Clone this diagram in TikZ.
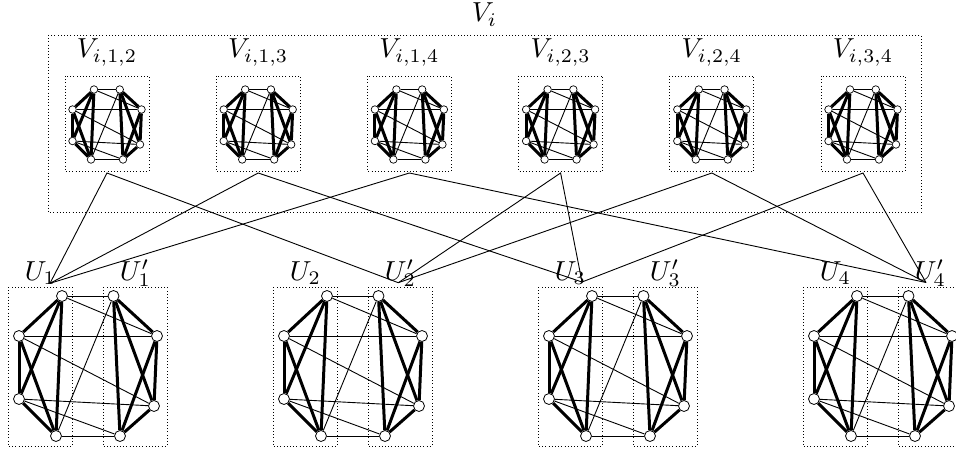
\documentclass[tikz,border=0pt]{standalone}
\usepackage{graphicx}
\newcommand{\biglbl}[1]{\scalebox{2.75}{$#1$}}
\begin{document}
\begin{tikzpicture}[x=1pt,y=-1pt,
  lbl/.style={inner sep=0pt, anchor=base},
  dotbox/.style={draw, line width=0.8pt, dash pattern=on 0.8pt off 2.4pt},
  vbig/.style={circle, draw, fill=white, line width=0.8pt, inner sep=0pt, minimum size=11pt},
  vsmall/.style={circle, draw, fill=white, line width=0.7pt, inner sep=0pt, minimum size=7.5pt},
  thinedge/.style={line width=0.9pt},
  thickedge/.style={line width=3pt},
  link/.style={line width=0.9pt},
  pics/gadget/.style={code={
    \node[#1] (-a1) at (-26,-70) {};
    \node[#1] (-a2) at (-69,-30) {};
    \node[#1] (-a3) at (-69,33) {};
    \node[#1] (-a4) at (-32,70) {};
    \node[#1] (-b1) at (25.5,-70) {};
    \node[#1] (-b2) at (69,-30) {};
    \node[#1] (-b3) at (66,40) {};
    \node[#1] (-b4) at (32,70) {};
    \draw[thinedge] (-a1) -- (-b1);
    \draw[thinedge] (-a1) -- (-b2);
    \draw[thinedge] (-a2) -- (-b2);
    \draw[thinedge] (-a2) -- (-b3);
    \draw[thinedge] (-a3) -- (-b3);
    \draw[thinedge] (-a3) -- (-b4);
    \draw[thinedge] (-a4) -- (-b4);
    \draw[thinedge] (-a4) -- (-b1);
    \draw[thickedge] (-a1) -- (-a2);
    \draw[thickedge] (-a1) -- (-a3);
    \draw[thickedge] (-a1) -- (-a4);
    \draw[thickedge] (-a2) -- (-a3);
    \draw[thickedge] (-a2) -- (-a4);
    \draw[thickedge] (-a3) -- (-a4);
    \draw[thickedge] (-b1) -- (-b2);
    \draw[thickedge] (-b1) -- (-b3);
    \draw[thickedge] (-b1) -- (-b4);
    \draw[thickedge] (-b2) -- (-b3);
    \draw[thickedge] (-b2) -- (-b4);
    \draw[thickedge] (-b3) -- (-b4);
  }}
]
\useasboundingbox (0,0) rectangle (956,452);

% outer box V_i
\draw[dotbox] (48,35) rectangle (921,212);
\node[lbl] (vi) at (484.5,22) {\biglbl{V_i}};

% small gadgets
\foreach \n/\ab/\cx in {1/{1,2}/107, 2/{1,3}/258.2, 3/{1,4}/409.4, 4/{2,3}/560.6, 5/{2,4}/711.8, 6/{3,4}/863}{
  \draw[dotbox] (\cx-42,76) rectangle (\cx+42,171);
  \node[lbl] (vl\n) at (\cx,58) {\biglbl{V_{i,\ab}}};
  \pic[scale=0.5] (s\n) at (\cx,124.5) {gadget=vsmall};
  \coordinate (t\n) at (\cx,173);
}

% big gadgets
\foreach \k/\cx in {1/88, 2/353, 3/618, 4/883}{
  \draw[dotbox] (\cx-80,287) rectangle (\cx-16,446);
  \draw[dotbox] (\cx+15,287) rectangle (\cx+79,446);
  \node[lbl] (lu\k) at (\cx-47.5,280) {\biglbl{U_{\k}}};
  \node[lbl] (lup\k) at (\cx+47.5,280) {\biglbl{U'_{\k}}};
  \pic (g\k) at (\cx,366) {gadget=vbig};
}

% connection points
\coordinate (p1) at (50,283.3);
\coordinate (p2) at (398.3,282.7);
\coordinate (p3) at (582,282);
\coordinate (p4) at (926,282.5);

\draw[link] (p1) -- (t1) -- (p2);
\draw[link] (p1) -- (t2) -- (p3);
\draw[link] (p1) -- (t3) -- (p4);
\draw[link] (p2) -- (t4) -- (p3);
\draw[link] (p2) -- (t5) -- (p4);
\draw[link] (p3) -- (t6) -- (p4);
\end{tikzpicture}
\end{document}
